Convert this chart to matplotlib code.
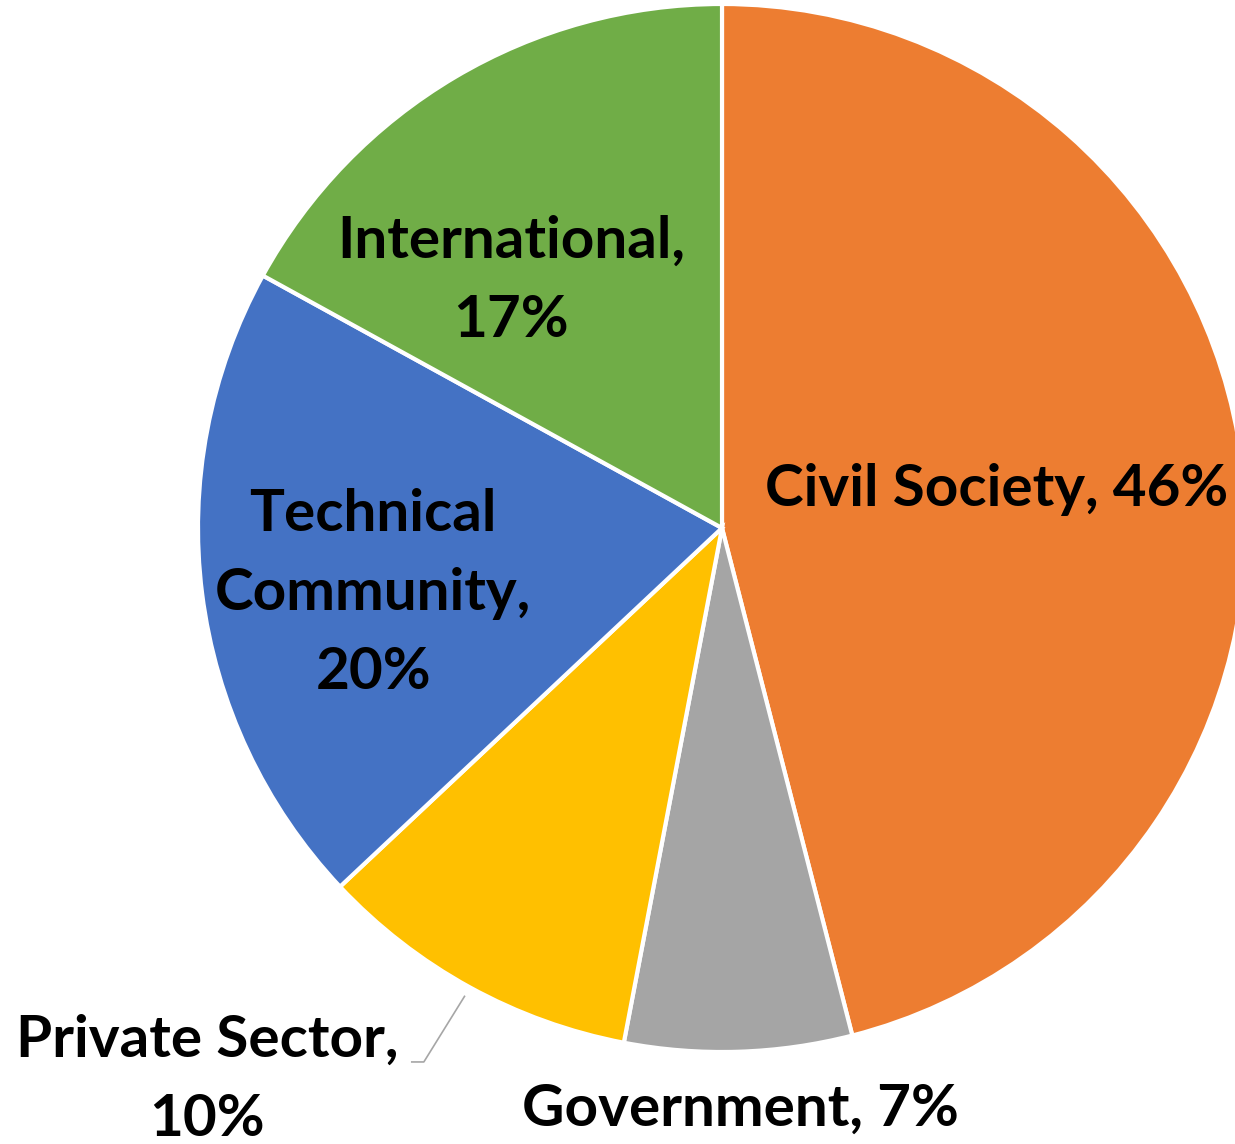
import matplotlib
matplotlib.use("Agg")
import matplotlib.pyplot as plt
import numpy as np

categories = ["Civil Society", "Government", "Private Sector", "Technical Community", "International"]
label_texts = ["Civil Society, 46%", "Government, 7%", "Private Sector,\n10%", "Technical\nCommunity,\n20%", "International,\n17%"]
values = [46, 7, 10, 20, 17]
colors = ["#ED7D31", "#A5A5A5", "#FFC000", "#4472C4", "#70AD47"]

W, H = 1235, 1144
fig = plt.figure(figsize=(W / 100, H / 100), dpi=100)
ax = fig.add_axes([0, 0, 1, 1])

cx, cy, R = 722, 528, 524
wedges, _ = ax.pie(values, colors=colors, startangle=90, counterclock=False,
                   radius=1, center=(0, 0),
                   wedgeprops=dict(edgecolor="white", linewidth=3))
ax.set_xlim(-cx / R, (W - cx) / R)
ax.set_ylim(-(H - cy) / R, cy / R)
ax.set_aspect("equal")
ax.axis("off")

# label placement: (radius factor, angle offset deg) relative to each wedge's mid angle
placement = [(0.53, 0.7), (1.11, 0.0), (1.44, -14.2), (0.677, 3.4), (0.62, 9.9)]
font = dict(family=["Lato", "DejaVu Sans"], fontweight="bold", fontsize=42, color="black")
for w, txt, (rf, da) in zip(wedges, label_texts, placement):
    mid = np.deg2rad((w.theta1 + w.theta2) / 2 + da)
    ax.text(rf * np.cos(mid), rf * np.sin(mid), txt, ha="center", va="center",
            linespacing=1.6, **font)

# leader line for Private Sector
w = wedges[2]
mid = np.deg2rad((w.theta1 + w.theta2) / 2)
p0 = (1.02 * np.cos(mid), 1.02 * np.sin(mid))
p1 = (-0.569, -1.019)
p2 = (-0.592, -1.019)
ax.plot([p0[0], p1[0], p2[0]], [p0[1], p1[1], p2[1]], color="#A6A6A6", lw=1.2)

fig.savefig("out.png", dpi=100)
